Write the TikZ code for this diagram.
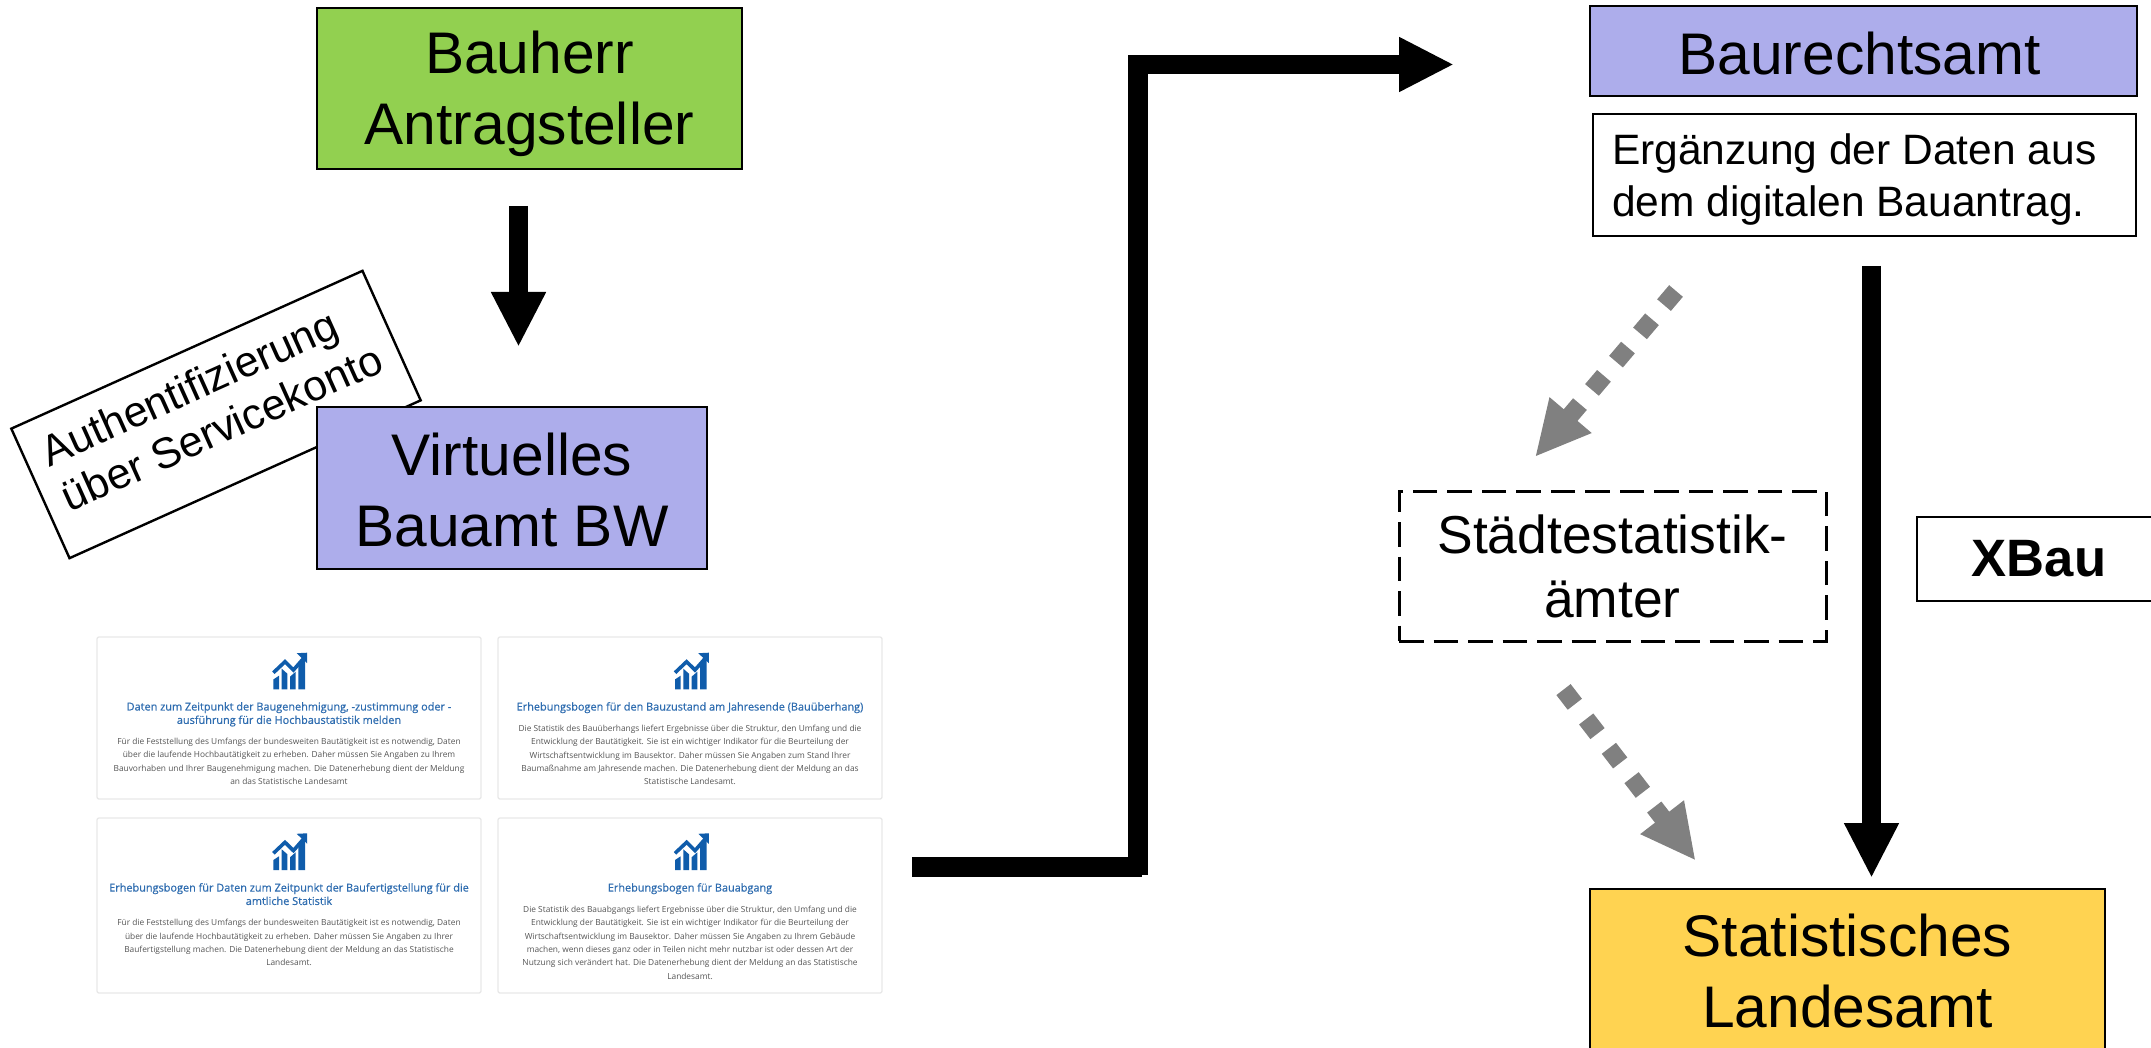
\documentclass[tikz,border=0pt]{standalone}
\usepackage{fontspec}
\setmainfont{Liberation Sans}
\newfontfamily\cardfont{Open Sans}
\newfontfamily\cardtitlefam[FakeBold=0.7]{Open Sans}
\usetikzlibrary{arrows.meta}
\definecolor{boxgreen}{HTML}{92D050}
\definecolor{boxpurple}{HTML}{ADADEB}
\definecolor{boxyellow}{HTML}{FFD351}
\definecolor{arrowgray}{HTML}{808080}
\definecolor{cardline}{HTML}{E8E8E8}
\definecolor{cardtitle}{HTML}{2F6DB0}
\definecolor{cardbody}{HTML}{555555}
\definecolor{chartblue}{HTML}{0F5CAB}
\newcommand{\cardtitlefont}{\cardtitlefam\fontsize{10.9}{13.4}\selectfont\color{cardtitle}}
\newcommand{\cardbodyfont}{\cardfont\fontsize{8.35}{13.4}\selectfont\color{cardbody}}
\tikzset{
  x=1pt,y=-1pt,
  box/.style={draw=black,line width=2.4pt,align=center,inner sep=0pt,text=black},
  big/.style={font=\fontsize{58.7}{71}\selectfont},
  cardbox/.style={draw=cardline,line width=1.3pt,rounded corners=2pt,fill=white,minimum width=384pt,inner sep=0pt},
  cardtext/.style={anchor=north,align=center,inner sep=0pt,font=\fontsize{8.35}{13.4}\selectfont},
  thickarrow/.style={line width=19.5pt,draw=black,-{Triangle[length=55pt,width=51pt]}},
  grayarrow/.style={line width=18pt,draw=arrowgray,dash pattern=on 18.5pt off 18.6pt,-{Triangle[length=55pt,width=51pt,fill=arrowgray]}},
  chart/.pic={
    \fill[chartblue] (0.7,26.7) -- (6.3,23) -- (6.3,36.7) -- (0.7,36.7) -- cycle;
    \fill[chartblue] (9,16) -- (14.7,21) -- (14.7,36.7) -- (9,36.7) -- cycle;
    \fill[chartblue] (17.3,24) -- (23,19) -- (23,36.7) -- (17.3,36.7) -- cycle;
    \fill[chartblue] (25.7,13) -- (32.3,6) -- (32.3,36.7) -- (25.7,36.7) -- cycle;
    \draw[chartblue,line width=3.6pt] (0.7,20) -- (12.3,9) -- (20.7,17.3) -- (31,5.5);
    \fill[chartblue] (24,0.5) -- (34.5,0) -- (34.5,10.5) -- cycle;
  }
}
\begin{document}
\begin{tikzpicture}
\useasboundingbox (0,0) rectangle (2151,1048);
\clip (0,0) rectangle (2151,1048);
\fill[white] (0,0) rectangle (2151,1048);
% left column
\node[box,big,fill=boxgreen,minimum width=425pt,minimum height=161pt] (bauherr) at (529.5,88.5) {\rule{0pt}{53pt}Bauherr\\Antragsteller};
\node[box,fill=white,rotate=24.2,minimum height=142pt,font=\fontsize{43}{49.6}\selectfont,align=flush left,text width=347pt,inner xsep=19pt] (auth) at (216,414.5) {Authentifizierung\\über Servicekonto\rule[-22pt]{0pt}{22pt}};
\node[box,big,fill=boxpurple,minimum width=390pt,minimum height=162pt] (vba) at (512,488) {\rule{0pt}{47pt}Virtuelles\\Bauamt BW};
\coordinate (a1s) at (518.5,206);
\coordinate (a1e) at (518.5,347);
\draw[thickarrow] (a1s) -- (a1e);
% cards
\node[cardbox,minimum height=162pt] (card1) at (289,718) {};
\node[cardbox,minimum height=162pt] (card2) at (690,718) {};
\node[cardbox,minimum height=175pt] (card3) at (289,905.5) {};
\node[cardbox,minimum height=175pt] (card4) at (690,905.5) {};
\pic at (272.7,652.7) {chart};
\pic at (674.3,652.7) {chart};
\pic at (272.7,833.3) {chart};
\pic at (674.3,833.3) {chart};
\node[cardtext] (t1) at (289,702) {\cardtitlefont Daten zum Zeitpunkt der Baugenehmigung, -zustimmung oder -\\\cardtitlefont ausführung für die Hochbaustatistik melden\\[7.3pt]
\cardbodyfont Für die Feststellung des Umfangs der bundesweiten Bautätigkeit ist es notwendig, Daten\\
\cardbodyfont über die laufende Hochbautätigkeit zu erheben. Daher müssen Sie Angaben zu Ihrem\\
\cardbodyfont Bauvorhaben und Ihrer Baugenehmigung machen. Die Datenerhebung dient der Meldung\\
\cardbodyfont an das Statistische Landesamt};
\node[cardtext] (t2) at (690,702) {\cardtitlefont Erhebungsbogen für den Bauzustand am Jahresende (Bauüberhang)\\[7.3pt]
\cardbodyfont Die Statistik des Bauüberhangs liefert Ergebnisse über die Struktur, den Umfang und die\\
\cardbodyfont Entwicklung der Bautätigkeit. Sie ist ein wichtiger Indikator für die Beurteilung der\\
\cardbodyfont Wirtschaftsentwicklung im Bausektor. Daher müssen Sie Angaben zum Stand Ihrer\\
\cardbodyfont Baumaßnahme am Jahresende machen. Die Datenerhebung dient der Meldung an das\\
\cardbodyfont Statistische Landesamt.};
\node[cardtext] (t3) at (289,883) {\cardtitlefont Erhebungsbogen für Daten zum Zeitpunkt der Baufertigstellung für die\\\cardtitlefont amtliche Statistik\\[7.3pt]
\cardbodyfont Für die Feststellung des Umfangs der bundesweiten Bautätigkeit ist es notwendig, Daten\\
\cardbodyfont über die laufende Hochbautätigkeit zu erheben. Daher müssen Sie Angaben zu Ihrer\\
\cardbodyfont Baufertigstellung machen. Die Datenerhebung dient der Meldung an das Statistische\\
\cardbodyfont Landesamt.};
\node[cardtext] (t4) at (690,883) {\cardtitlefont Erhebungsbogen für Bauabgang\\[7.3pt]
\cardbodyfont Die Statistik des Bauabgangs liefert Ergebnisse über die Struktur, den Umfang und die\\
\cardbodyfont Entwicklung der Bautätigkeit. Sie ist ein wichtiger Indikator für die Beurteilung der\\
\cardbodyfont Wirtschaftsentwicklung im Bausektor. Daher müssen Sie Angaben zu Ihrem Gebäude\\
\cardbodyfont machen, wenn dieses ganz oder in Teilen nicht mehr nutzbar ist oder dessen Art der\\
\cardbodyfont Nutzung sich verändert hat. Die Datenerhebung dient der Meldung an das Statistische\\
\cardbodyfont Landesamt.};
% elbow arrow
\coordinate (e0) at (912,866.5);
\coordinate (e1) at (1142,866.5);
\coordinate (e2) at (1138,875);
\coordinate (e3) at (1138,64.5);
\coordinate (e4) at (1454,64.5);
\draw[black,line width=20pt] (e0) -- (e1);
\draw[thickarrow] (e2) -- (e3) -- (e4);
% right column
\node[box,big,fill=boxpurple,minimum width=547pt,minimum height=90pt] (bra) at (1863.5,51) {\rule{0pt}{47pt}Baurechtsamt\hspace*{8pt}};
\node[box,minimum height=122pt,font=\fontsize{42.5}{52}\selectfont,align=flush left,text width=505pt,inner xsep=19pt] (erg) at (1864.5,175) {\rule{0pt}{39pt}Ergänzung der Daten aus\\dem digitalen Bauantrag.};
\node[box,line width=3pt,dash pattern=on 24.5pt off 10pt,minimum width=427pt,minimum height=150pt,font=\fontsize{53.4}{64}\selectfont] (sta) at (1612.5,566) {Städtestatistik-\\ämter};
\node[box,minimum width=244pt,minimum height=84pt,font=\bfseries\fontsize{52.6}{60}\selectfont] (xbau) at (2039,559) {XBau};
\node[box,big,fill=boxyellow,minimum width=515pt,minimum height=164pt] (sla) at (1847.5,971) {Statistisches\\Landesamt};
\coordinate (r1s) at (1871.5,266);
\coordinate (r1e) at (1871.5,878);
\draw[thickarrow] (r1s) -- (r1e);
\coordinate (g1s) at (1676,291);
\coordinate (g1e) at (1535,457);
\draw[grayarrow] (g1s) -- (g1e);
\coordinate (g2s) at (1563.5,689.6);
\coordinate (g2e) at (1695.7,860.7);
\draw[grayarrow] (g2s) -- (g2e);
\end{tikzpicture}
\end{document}
